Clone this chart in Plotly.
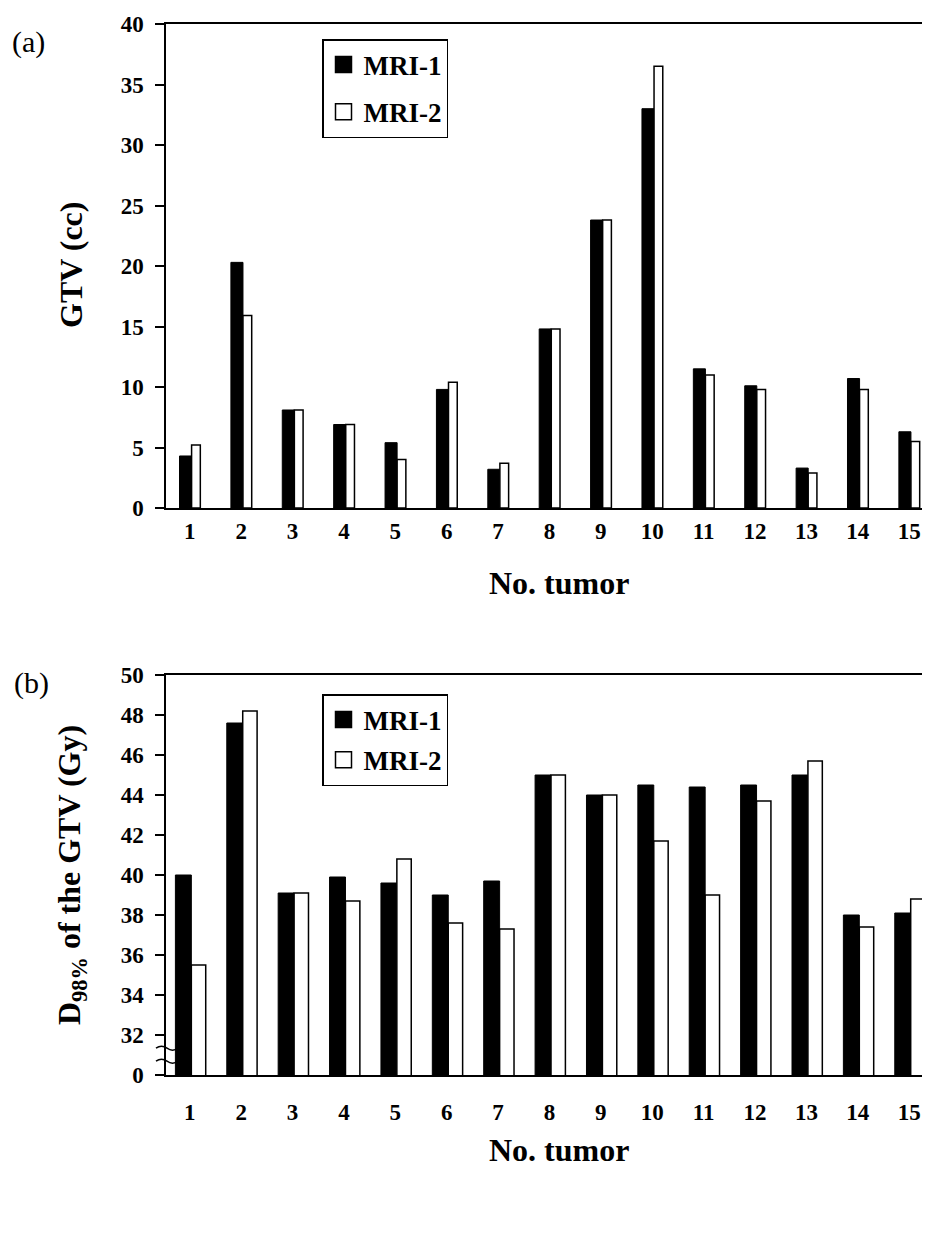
import plotly.graph_objects as go

# ---------------- data ----------------
tumors = list(range(1, 16))
tick_labels = [str(t) for t in tumors]

gtv_mri1 = [4.3, 20.3, 8.1, 6.9, 5.4, 9.8, 3.2, 14.8, 23.8, 33.0, 11.5, 10.1, 3.3, 10.7, 6.3]
gtv_mri2 = [5.2, 15.9, 8.1, 6.9, 4.0, 10.4, 3.7, 14.8, 23.8, 36.5, 11.0, 9.8, 2.9, 9.8, 5.5]

d98_mri1 = [40.0, 47.6, 39.1, 39.9, 39.6, 39.0, 39.7, 45.0, 44.0, 44.5, 44.4, 44.5, 45.0, 38.0, 38.1]
d98_mri2 = [35.5, 48.2, 39.1, 38.7, 40.8, 37.6, 37.3, 45.0, 44.0, 41.7, 39.0, 43.7, 45.7, 37.4, 38.8]

gtv_tickvals = [0, 5, 10, 15, 20, 25, 30, 35, 40]
d98_tickvals = [30, 32, 34, 36, 38, 40, 42, 44, 46, 48, 50]
d98_ticktext = ["0", "32", "34", "36", "38", "40", "42", "44", "46", "48", "50"]

series_names = ["MRI-1", "MRI-2"]

# ---------------- layout constants ----------------
# the page body has an 8px margin on every side, so the figure is made
# smaller (no scrollbar) and page-pixel positions are shifted by it
OFF = 8
W, H = 930 - 2 * OFF, 1239 - 2 * OFF
FONT = "Liberation Serif"


def px_x(p):
    return (p - OFF) / W


def px_y(p):
    return 1 - (p - OFF) / H


x_dom = [px_x(166), 1.0]
ya_dom = [px_y(508), px_y(24)]
yb_dom = [px_y(1075), px_y(675)]
x_range = [0.537, 15.25]

fig = go.Figure()

# panel (a)
fig.add_trace(go.Bar(x=tumors, y=gtv_mri1, name=series_names[0], showlegend=False,
                     marker=dict(color="black", line=dict(color="black", width=1)),
                     width=0.235, offset=-0.2, xaxis="x", yaxis="y"))
fig.add_trace(go.Bar(x=tumors, y=gtv_mri2, name=series_names[1], showlegend=False,
                     marker=dict(color="white", line=dict(color="black", width=1.5)),
                     width=0.17, offset=0.035, xaxis="x", yaxis="y"))
# panel (b)
fig.add_trace(go.Bar(x=tumors, y=d98_mri1, name=series_names[0], showlegend=False,
                     marker=dict(color="black", line=dict(color="black", width=1)),
                     width=0.31, offset=-0.28, xaxis="x2", yaxis="y2"))
fig.add_trace(go.Bar(x=tumors, y=d98_mri2, name=series_names[1], showlegend=False,
                     marker=dict(color="white", line=dict(color="black", width=1.5)),
                     width=0.28, offset=0.03, xaxis="x2", yaxis="y2"))

# legend proxies
for leg, xa, ya in [("legend", "x", "y"), ("legend2", "x2", "y2")]:
    for name, col in zip(series_names, ["black", "white"]):
        fig.add_trace(go.Scatter(x=[None], y=[None], mode="markers", name=name,
                                 legend=leg, legendgroup=leg + name,
                                 marker=dict(symbol="square", size=16, color=col,
                                             line=dict(color="black", width=1.5)),
                                 xaxis=xa, yaxis=ya))

tickfont = dict(family=FONT, size=23, color="black", weight="bold")

common_x = dict(range=x_range, tickvals=tumors, ticktext=tick_labels,
                showline=True, linecolor="black", linewidth=1.5, mirror=True,
                ticks="", showgrid=False, zeroline=False, tickfont=tickfont,
                automargin=False, fixedrange=True, ticklabeloverflow="allow")
common_y = dict(showline=True, linecolor="black", linewidth=1.5, ticks="outside",
                ticklen=9, tickwidth=1.5, tickcolor="black", showgrid=False,
                zeroline=False, tickfont=tickfont, automargin=False,
                ticklabelstandoff=7)

legend_common = dict(bgcolor="white", bordercolor="black", borderwidth=1.5,
                     font=dict(family=FONT, size=27, color="black", weight="bold"),
                     xanchor="left", yanchor="top", itemsizing="trace")

fig.update_layout(
    width=W, height=H,
    margin=dict(l=0, r=0, t=0, b=0),
    paper_bgcolor="white", plot_bgcolor="white",
    barmode="overlay",
    showlegend=True,
    xaxis=dict(domain=x_dom, anchor="y", ticklabelstandoff=2, **common_x),
    yaxis=dict(domain=ya_dom, anchor="x", range=[0, 40], tickvals=gtv_tickvals, **common_y),
    xaxis2=dict(domain=x_dom, anchor="y2", ticklabelstandoff=16, **common_x),
    yaxis2=dict(domain=yb_dom, anchor="x2", range=[30, 50], tickvals=d98_tickvals,
                ticktext=d98_ticktext, **common_y),
    legend=dict(x=px_x(322), y=px_y(39), tracegroupgap=9, **legend_common),
    legend2=dict(x=px_x(322), y=px_y(694), tracegroupgap=2, **legend_common),
)

title_font = dict(family=FONT, size=32, color="black", weight="bold")
label_font = dict(family=FONT, size=30, color="black")

annos = [
    dict(text="(a)", x=px_x(28), y=px_y(42), font=label_font),
    dict(text="(b)", x=px_x(31), y=px_y(683), font=label_font),
    dict(text="GTV (cc)", x=px_x(71), y=px_y(265), textangle=-90, font=title_font),
    dict(text="D<sub>98%</sub> of the GTV (Gy)", x=px_x(71), y=px_y(875), textangle=-90,
         font=title_font),
    dict(text="No. tumor", x=px_x(559), y=px_y(583), font=title_font),
    dict(text="No. tumor", x=px_x(559), y=px_y(1150), font=title_font),
]
for a in annos:
    fig.add_annotation(xref="paper", yref="paper", showarrow=False,
                       xanchor="center", yanchor="middle", **a)

# axis-break marks on panel (b)
x0, xq, xm, x1 = px_x(156), px_x(161.5), px_x(167), px_x(178)
for yb in [31.34, 30.69]:
    path = f"M {x0},{yb} Q {xq},{yb + 0.2} {xm},{yb} T {x1},{yb}"
    fig.add_shape(type="path", path=path, xref="paper", yref="y2",
                  line=dict(color="black", width=1.5), layer="above")

fig.write_html("out.html")
